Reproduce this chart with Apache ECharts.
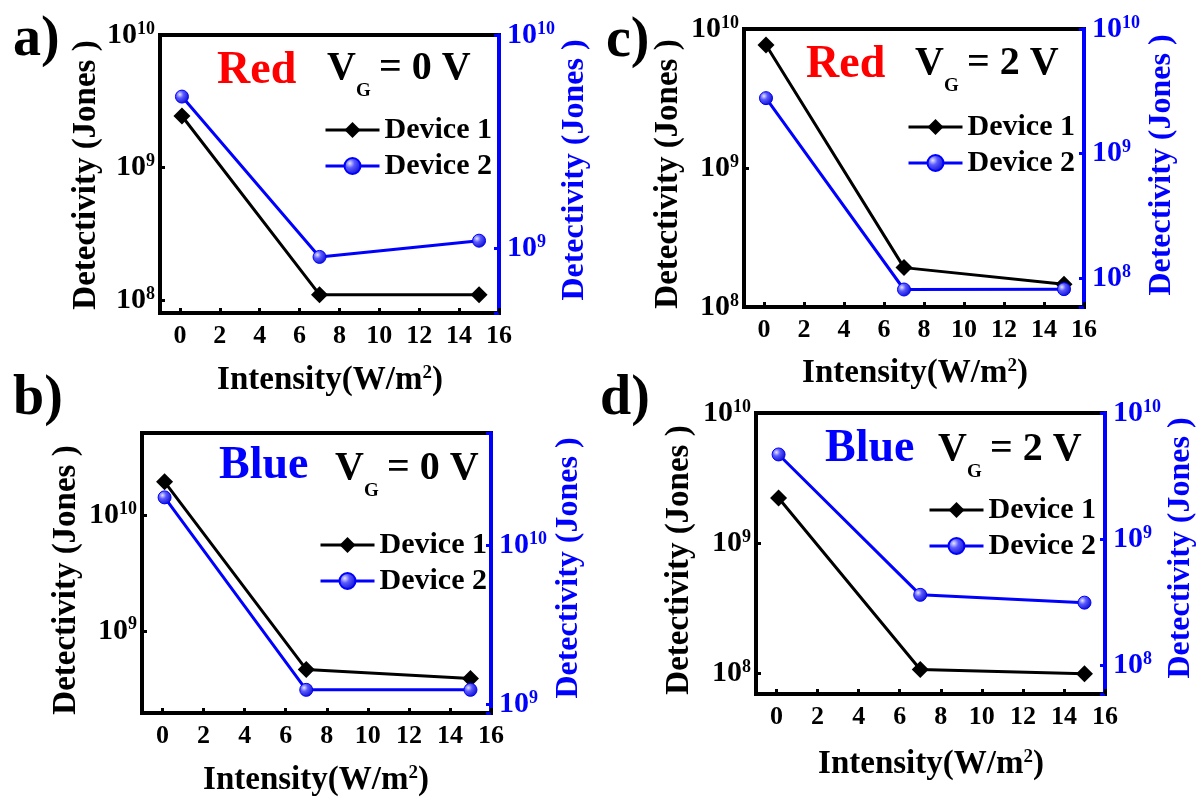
<!DOCTYPE html>
<html><head><meta charset="utf-8">
<script src="https://cdn.jsdelivr.net/npm/echarts@6/dist/echarts.min.js"></script>
<style>html,body{margin:0;padding:0;background:#fff}#c{width:1204px;height:799px}</style>
</head><body><div id="c"></div>
<script>
// ---- data ----
const intensity = [0.1, 7, 15];            // W/m^2
const xTicks = [0, 2, 4, 6, 8, 10, 12, 14, 16];
const seriesNames = ['Device 1', 'Device 2'];

const aDev1 = [2.45e9, 1.10e8, 1.10e8];
const aDev2 = [5.15e9, 9.15e8, 1.09e9];
const bDev1 = [1.94e10, 4.64e8, 3.88e8];
const bDev2 = [1.99e10, 1.23e9, 1.23e9];
const cDev1 = [7.67e9, 1.92e8, 1.46e8];
const cDev2 = [2.79e9, 8.15e7, 8.2e7];
const dDev1 = [2.22e9, 1.07e8, 9.9e7];
const dDev2 = [4.69e9, 3.61e8, 3.13e8];

// axis ranges
const xRange = [-1, 16];
const aLeftRange = [8.0e7, 1e10],  aRightRange = [5.0e8, 1e10];
const bLeftRange = [1.95e8, 5.12e10], bRightRange = [8.8e8, 5.05e10];
const cLeftRange = [1.0e8, 1e10],  cRightRange = [5.9e7, 1e10];
const dLeftRange = [6.93e7, 1e10], dRightRange = [5.9e7, 1e10];

const panelLetters = ['a)', 'b)', 'c)', 'd)'];
const lightLabels = ['Red', 'Blue', 'Red', 'Blue'];
const gateLabels = ['= 0 V', '= 0 V', '= 2 V', '= 2 V'];
const yTitle = 'Detectivity (Jones )';

// ---- layout ----
const FONT = "'Liberation Serif','Times New Roman',serif";
const BLUE = '#0000ff';
const panels = [
  {grid:{left:160, top:35, width:339, height:278}, L:aLeftRange, R:aRightRange, d1:aDev1, d2:aDev2,
   legend:[319,110], letter:[13,41], light:[217,71,'#ff0000'], vg:[327,68.5], lt:[86,175], rt:[575,170], xt:[330,380]},
  {grid:{left:142, top:433, width:349, height:280}, L:bLeftRange, R:bRightRange, d1:bDev1, d2:bDev2,
   legend:[314,525], letter:[13,400], light:[219,466,BLUE], vg:[335,468.5], lt:[66,580], rt:[569,568], xt:[316,780]},
  {grid:{left:744, top:29, width:340, height:278}, L:cLeftRange, R:cRightRange, d1:cDev1, d2:cDev2,
   legend:[902,107], letter:[606,42], light:[806,65,'#ff0000'], vg:[915,63.5], lt:[668,174], rt:[1162,165], xt:[915,373]},
  {grid:{left:756, top:413, width:349, height:281}, L:dLeftRange, R:dRightRange, d1:dDev1, d2:dDev2,
   legend:[923,490], letter:[600,400], light:[825,449,BLUE], vg:[938,449.5], lt:[679,560], rt:[1181,548], xt:[931,764]}
];

function powLabel(v) {
  const e = Math.log10(v), r = Math.round(e);
  if (Math.abs(e - r) > 1e-6) return '';
  return '{b|10}{s|' + r + '}';
}
function richFor(color) {
  return {
    b: {fontSize: 30, fontWeight: 'bold', fontFamily: FONT, color: color, lineHeight: 30},
    s: {fontSize: 18, fontWeight: 'bold', fontFamily: FONT, color: color, lineHeight: 18, verticalAlign: 'top'}
  };
}

const sphere = new echarts.graphic.RadialGradient(0.35, 0.35, 0.75, [
  {offset: 0, color: '#e6e6ff'}, {offset: 0.35, color: '#5a5aff'}, {offset: 1, color: '#0000c8'}
]);

const grids = [], xAxes = [], yAxes = [], series = [], legends = [], graphics = [];
panels.forEach((p, i) => {
  grids.push(Object.assign({show: true, borderColor: '#000', borderWidth: 4, backgroundColor: 'transparent'}, p.grid));
  xAxes.push({
    gridIndex: i, type: 'value', min: xRange[0], max: xRange[1], minInterval: 2, maxInterval: 2,
    axisLine: {show: true, onZero: false, lineStyle: {color: '#000', width: 4}},
    axisTick: {show: true, inside: true, length: 5, lineStyle: {color: '#000', width: 3}},
    axisLabel: {margin: 10, fontSize: 26, fontWeight: 'bold', fontFamily: FONT, color: '#000',
      formatter: v => xTicks.indexOf(Math.round(v * 1000) / 1000) >= 0 ? String(Math.round(v)) : ''},
    splitLine: {show: false}
  });
  yAxes.push({
    gridIndex: i, type: 'log', logBase: 10, min: p.L[0], max: p.L[1], position: 'left',
    axisLine: {show: true, onZero: false, lineStyle: {color: '#000', width: 4}},
    axisTick: {show: true, inside: true, length: 5, lineStyle: {color: '#000', width: 3}},
    axisLabel: {margin: 5, formatter: powLabel, rich: richFor('#000')},
    splitLine: {show: false}
  });
  yAxes.push({
    gridIndex: i, type: 'log', logBase: 10, min: p.R[0], max: p.R[1], position: 'right',
    axisLine: {show: true, onZero: false, lineStyle: {color: BLUE, width: 4}},
    axisTick: {show: true, inside: true, length: 5, lineStyle: {color: BLUE, width: 3}},
    axisLabel: {margin: 8, formatter: powLabel, rich: richFor(BLUE)},
    splitLine: {show: false}
  });
  series.push({
    type: 'line', name: seriesNames[0], xAxisIndex: i, yAxisIndex: 2 * i, z: 5,
    data: intensity.map((x, k) => [x, p.d1[k]]),
    symbol: 'diamond', symbolSize: 17,
    lineStyle: {color: '#000', width: 3}, itemStyle: {color: '#000'}
  });
  series.push({
    type: 'line', name: seriesNames[1], xAxisIndex: i, yAxisIndex: 2 * i + 1, z: 5,
    data: intensity.map((x, k) => [x, p.d2[k]]),
    symbol: 'circle', symbolSize: 13,
    lineStyle: {color: BLUE, width: 3}, itemStyle: {color: sphere, borderColor: BLUE, borderWidth: 1}
  });
  legends.push({
    orient: 'vertical', left: p.legend[0], top: p.legend[1], itemWidth: 54, itemHeight: 20, itemGap: 6,
    data: seriesNames, selectedMode: false,
    lineStyle: {width: 3},
    textStyle: {fontSize: 30, fontWeight: 'bold', fontFamily: FONT, color: '#000'}
  });
  graphics.push({type: 'text', x: p.letter[0], y: p.letter[1],
    style: {text: panelLetters[i], font: 'bold 56px ' + FONT, fill: '#000', verticalAlign: 'middle'}});
  graphics.push({type: 'text', x: p.light[0], y: p.light[1],
    style: {text: lightLabels[i], font: 'bold 46px ' + FONT, fill: p.light[2], verticalAlign: 'middle'}});
  graphics.push({type: 'text', x: p.vg[0], y: p.vg[1],
    style: {text: 'V', font: 'bold 40px ' + FONT, fill: '#000', verticalAlign: 'middle'}});
  graphics.push({type: 'text', x: p.vg[0] + 29, y: p.vg[1] + 22.5,
    style: {text: 'G', font: 'bold 19px ' + FONT, fill: '#000', verticalAlign: 'middle'}});
  graphics.push({type: 'text', x: p.vg[0] + 52, y: p.vg[1],
    style: {text: gateLabels[i], font: 'bold 40px ' + FONT, fill: '#000', verticalAlign: 'middle'}});
  graphics.push({type: 'text', x: p.lt[0], y: p.lt[1], rotation: Math.PI / 2,
    style: {text: yTitle, font: 'bold 33px ' + FONT, fill: '#000', align: 'center', verticalAlign: 'middle'}});
  graphics.push({type: 'text', x: p.rt[0], y: p.rt[1], rotation: Math.PI / 2,
    style: {text: yTitle, font: 'bold 32px ' + FONT, fill: BLUE, align: 'center', verticalAlign: 'middle'}});
  graphics.push({type: 'text', x: p.xt[0], y: p.xt[1],
    style: {text: '{a|Intensity(W/m}{s|2}{a|)}', align: 'center', verticalAlign: 'middle',
      rich: {a: {fontSize: 33, fontWeight: 'bold', fontFamily: FONT, color: '#000', lineHeight: 33},
             s: {fontSize: 19, fontWeight: 'bold', fontFamily: FONT, color: '#000', lineHeight: 19, verticalAlign: 'top'}}}});
});

const chart = echarts.init(document.getElementById('c'), null, {renderer: 'canvas'});
chart.setOption({
  animation: false,
  backgroundColor: '#fff',
  grid: grids, xAxis: xAxes, yAxis: yAxes, series: series, legend: legends,
  graphic: graphics
});
</script></body></html>
